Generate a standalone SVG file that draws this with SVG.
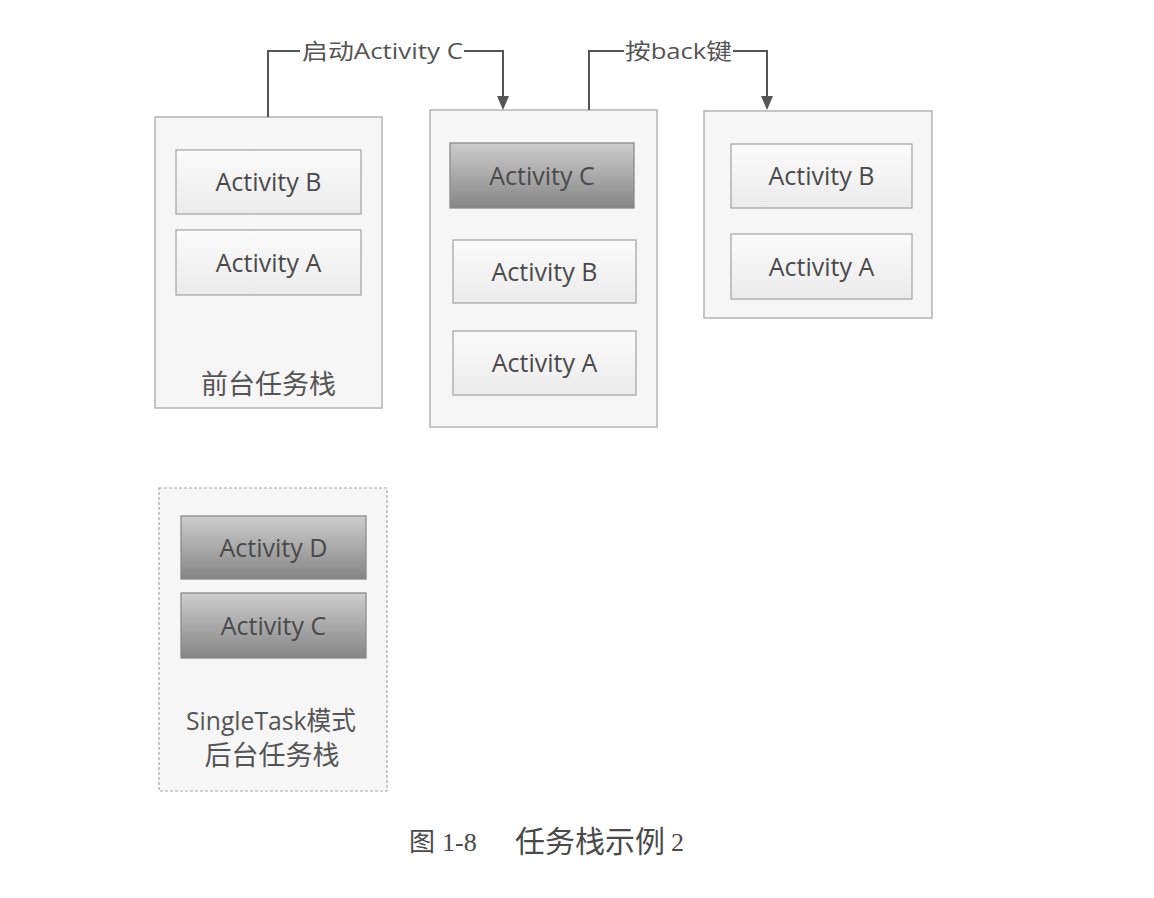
<svg xmlns="http://www.w3.org/2000/svg" width="1154" height="898" viewBox="0 0 1154 898">
<defs>
<linearGradient id="light" x1="0" y1="0" x2="0" y2="1"><stop offset="0" stop-color="#fbfbfb"/><stop offset="1" stop-color="#ebebeb"/></linearGradient>
<linearGradient id="dark" x1="0" y1="0" x2="0" y2="1"><stop offset="0" stop-color="#cdcdcd"/><stop offset="1" stop-color="#858585"/></linearGradient>
<style>
.stack{fill:#f6f6f6;stroke:#b4b4b4;stroke-width:1.5}
.dash{fill:#f6f6f6;stroke:#a8a8a8;stroke-width:1.2;stroke-dasharray:3 2}
.lb{fill:url(#light);stroke:#a8a8a8;stroke-width:1.3}
.db{fill:url(#dark);stroke:#8a8a8a;stroke-width:1.3}
.t{font-family:"Open Sans","Liberation Sans",sans-serif;font-size:25px;fill:#4a4a4a;text-anchor:middle}
.cj{font-family:"Open Sans","Noto Sans CJK SC",sans-serif;font-size:27px;fill:#555;text-anchor:middle}
.cl{font-family:"Open Sans","Noto Sans CJK SC",sans-serif;font-size:22px;fill:#555}
.con{fill:none;stroke:#555;stroke-width:2}
.ah{fill:#555}
.cap{font-family:"Liberation Serif","Noto Sans CJK SC",serif;font-size:26px;fill:#4a4a4a}
</style>
</defs>
<rect width="1154" height="898" fill="#fff"/>
<g id="stack1">
<rect class="stack" x="155" y="117" width="227" height="291"/>
<rect class="lb" x="176" y="150" width="185" height="64"/>
<text class="t" x="268.5" y="191">Activity B</text>
<rect class="lb" x="176" y="230" width="185" height="65"/>
<text class="t" x="268.5" y="272">Activity A</text>
<text class="cj" x="268.5" y="394">前台任务栈</text>
</g>
<g id="stack2">
<rect class="stack" x="430" y="110" width="227" height="317"/>
<rect class="db" x="450" y="143" width="184" height="65"/>
<text class="t" x="542" y="185">Activity C</text>
<rect class="lb" x="453" y="240" width="183" height="63"/>
<text class="t" x="544.5" y="281">Activity B</text>
<rect class="lb" x="453" y="331" width="183" height="64"/>
<text class="t" x="544.5" y="372">Activity A</text>
</g>
<g id="stack3">
<rect class="stack" x="704" y="111" width="228" height="207"/>
<rect class="lb" x="731" y="144" width="181" height="64"/>
<text class="t" x="821.5" y="185">Activity B</text>
<rect class="lb" x="731" y="234" width="181" height="65"/>
<text class="t" x="821.5" y="276">Activity A</text>
</g>
<g id="stack4">
<rect class="dash" x="159" y="488" width="228" height="303"/>
<rect class="db" x="181" y="516" width="185" height="63"/>
<text class="t" x="273.5" y="557">Activity D</text>
<rect class="db" x="181" y="593" width="185" height="65"/>
<text class="t" x="273.5" y="635">Activity C</text>
<text class="cj" x="271" y="730" style="font-size:26px" textLength="170" lengthAdjust="spacingAndGlyphs">SingleTask模式</text>
<text class="cj" x="272" y="765">后台任务栈</text>
</g>
<g id="connectors">
<path class="con" d="M268,117 V51 H300"/>
<path class="con" d="M464,51 H503 V97"/>
<polygon class="ah" points="497,96 509,96 503,110"/>
<text class="cl" x="302" y="59" textLength="161" lengthAdjust="spacingAndGlyphs">启动Activity C</text>
<path class="con" d="M589,110 V51 H624"/>
<path class="con" d="M733,51 H767 V97"/>
<polygon class="ah" points="761,96 773,96 767,110"/>
<text class="cl" x="625" y="59" textLength="107" lengthAdjust="spacingAndGlyphs">按back键</text>
</g>
<g id="caption">
<text class="cap" x="409" y="851">图</text>
<text class="cap" x="442" y="851">1-8</text>
<text class="cap" x="515" y="852" style="font-size:30px">任务栈示例</text>
<text class="cap" x="671" y="851">2</text>
</g>
</svg>
